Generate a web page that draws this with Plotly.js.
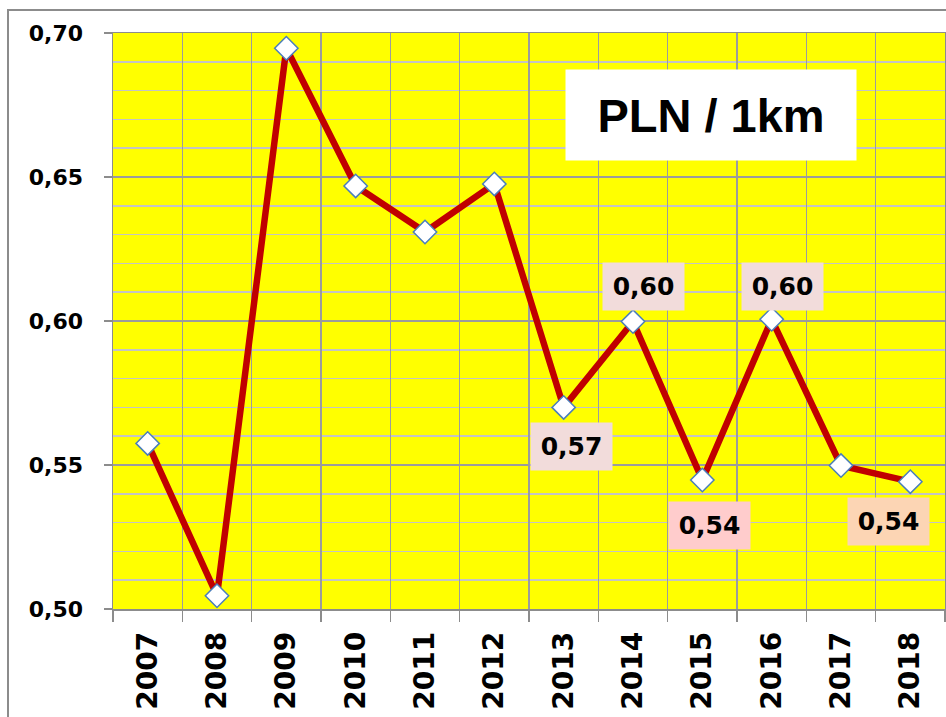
<!DOCTYPE html>
<html>
<head>
<meta charset="utf-8">
<script src="https://cdn.plot.ly/plotly-3.0.1.min.js"></script>
<style>html,body{margin:0;padding:0;background:#fff;}#chart{width:946px;height:717px;}</style>
</head>
<body>
<div id="chart"></div>
<script>
const years = ['2007','2008','2009','2010','2011','2012','2013','2014','2015','2016','2017','2018'];
const values = [0.5575, 0.5046, 0.6947, 0.6469, 0.6309, 0.6476, 0.5700, 0.5998, 0.5448, 0.6006, 0.5498, 0.5442];
const labelYears = ['2013','2014','2015','2016','2018'];
const labelColors = ['#F2DCDB','#F2DCDB','#FFCCCC','#F2DCDB','#FCD5B4'];
const labelOffsets = [[8,-39],[10,35],[7,-46],[11,33],[-22,-40]];
const titleText = 'PLN / 1km';

const trace = {
  x: years, y: values, type: 'scatter', mode: 'lines+markers',
  line: {color: '#C00000', width: 6.5},
  marker: {symbol: 'diamond', size: 18, color: '#FFFFFF', line: {color: '#4A7EBB', width: 1.5}},
  cliponaxis: false, hoverinfo: 'skip'
};

const annotations = labelYears.map((yr, i) => {
  const idx = years.indexOf(yr);
  const v = values[idx];
  return {
    x: idx, y: v, xref: 'x', yref: 'y', showarrow: false,
    xanchor: 'center', yanchor: 'middle',
    text: '<b>' + v.toFixed(2).replace('.', ',') + '</b>',
    font: {family: 'DejaVu Sans', size: 25, color: '#000000'},
    bgcolor: labelColors[i], width: 79, height: 45,
    xshift: labelOffsets[i][0], yshift: labelOffsets[i][1]
  };
});
annotations.push({
  xref: 'paper', yref: 'paper', x: 0.7188, y: 0.8576, showarrow: false,
  xanchor: 'center', yanchor: 'middle',
  text: '<b>' + titleText + '</b>',
  font: {family: 'Liberation Sans, Arial', size: 47, color: '#000'},
  bgcolor: '#FFFFFF', width: 288, height: 88
});

const layout = {
  width: 946, height: 717,
  margin: {l: 113, r: 1, t: 33, b: 108},
  paper_bgcolor: '#FFFFFF', plot_bgcolor: '#FFFF00',
  separators: ', ',
  showlegend: false,
  xaxis: {
    type: 'category', range: [-0.5, 11.5], tickson: 'boundaries',
    ticks: 'outside', ticklen: 11, tickcolor: '#8c8c8c', tickwidth: 1.5,
    showgrid: true, gridcolor: '#9c9c9c', gridwidth: 1.5,
    showline: true, linecolor: '#8c8c8c', linewidth: 1.5, mirror: true,
    tickangle: -90, ticklabelstandoff: 10,
    tickfont: {family: 'DejaVu Sans', size: 28, color: '#000', weight: 'bold'}
  },
  yaxis: {
    range: [0.50, 0.70], tick0: 0.5, dtick: 0.05, tickformat: '.2f',
    ticks: 'outside', ticklen: 8, tickcolor: '#8c8c8c', tickwidth: 1.5,
    showgrid: true, gridcolor: '#9c9c9c', gridwidth: 1.5,
    minor: {dtick: 0.01, showgrid: true, gridcolor: '#c4c4c4', gridwidth: 1.5},
    showline: true, linecolor: '#8c8c8c', linewidth: 1.5, mirror: true,
    zeroline: false, ticklabelstandoff: 16,
    tickfont: {family: 'DejaVu Sans', size: 22, color: '#000', weight: 'bold'}
  },
  annotations: annotations,
  shapes: [{
    type: 'rect', xref: 'paper', yref: 'paper',
    x0: -0.1262, x1: 1.3, y0: -0.5, y1: 1.04,
    line: {color: '#8c8c8c', width: 2}, fillcolor: 'rgba(0,0,0,0)', layer: 'below'
  }]
};

Plotly.newPlot('chart', [trace], layout, {displayModeBar: false, staticPlot: true});
</script>
</body>
</html>
